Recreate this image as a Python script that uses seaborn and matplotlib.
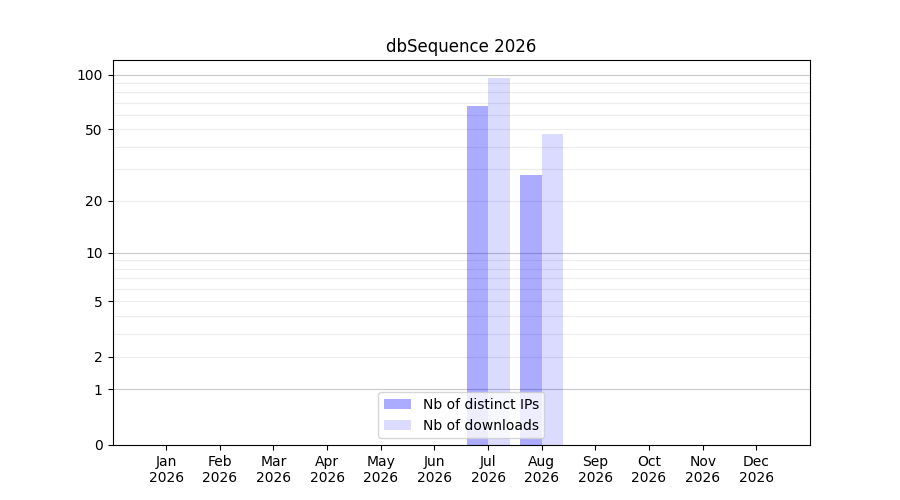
import numpy as np
import pandas as pd
import matplotlib
matplotlib.use("Agg")
import matplotlib.pyplot as plt
import seaborn as sns

months = ["Jan", "Feb", "Mar", "Apr", "May", "Jun", "Jul", "Aug", "Sep", "Oct", "Nov", "Dec"]
year = "2026"
distinct_ips = [0, 0, 0, 0, 0, 0, 67, 28, 0, 0, 0, 0]
downloads = [0, 0, 0, 0, 0, 0, 96, 47, 0, 0, 0, 0]
series_names = ["Nb of distinct IPs", "Nb of downloads"]
ytick_values = [0, 1, 2, 5, 10, 20, 50, 100]
decade_lines = [1, 10, 100]
minor_lines = list(range(2, 10)) + list(range(20, 100, 10))

labels = [f"{m}\n{year}" for m in months]
df = pd.DataFrame({
    "month": labels * 2,
    "value": distinct_ips + downloads,
    "series": [series_names[0]] * 12 + [series_names[1]] * 12,
})

fig, ax = plt.subplots(figsize=(9, 5), dpi=100)
ax.set_yscale("function", functions=(lambda v: np.log10(1 + np.clip(v, 0, None)),
                                     lambda v: 10 ** v - 1))
ax.set_axisbelow(True)
sns.barplot(data=df, x="month", y="value", hue="series", order=labels,
            hue_order=series_names, palette=["blue", "blue"], ax=ax,
            width=0.8, saturation=1, errorbar=None)

alphas = [0.33, 0.14]
for cont, a in zip(ax.containers, alphas):
    for p in cont.patches:
        p.set_alpha(a)
        p.set_edgecolor("none")

ax.set_xlim(-1, 12)
ax.set_ylim(0, max(max(distinct_ips), max(downloads)) * 1.25)
ax.yaxis.remove_overlapping_locs = False
ax.set_yticks(ytick_values)
ax.set_yticklabels([str(v) for v in ytick_values])
ax.set_yticks(minor_lines, minor=True)
ax.tick_params(axis="y", which="minor", length=0)
ax.grid(False)
ax.grid(axis="y", which="minor", color="#ececec", linewidth=0.8)
for v in decade_lines:
    ax.axhline(v, color="#c8c8c8", linewidth=0.8, zorder=0.5)
ax.set_xlabel("")
ax.set_ylabel("")
ax.set_title("dbSequence 2026")
ax.legend(handles=list(ax.containers[:2]), labels=series_names, loc="lower center")
fig.savefig("out.png", dpi=100)
